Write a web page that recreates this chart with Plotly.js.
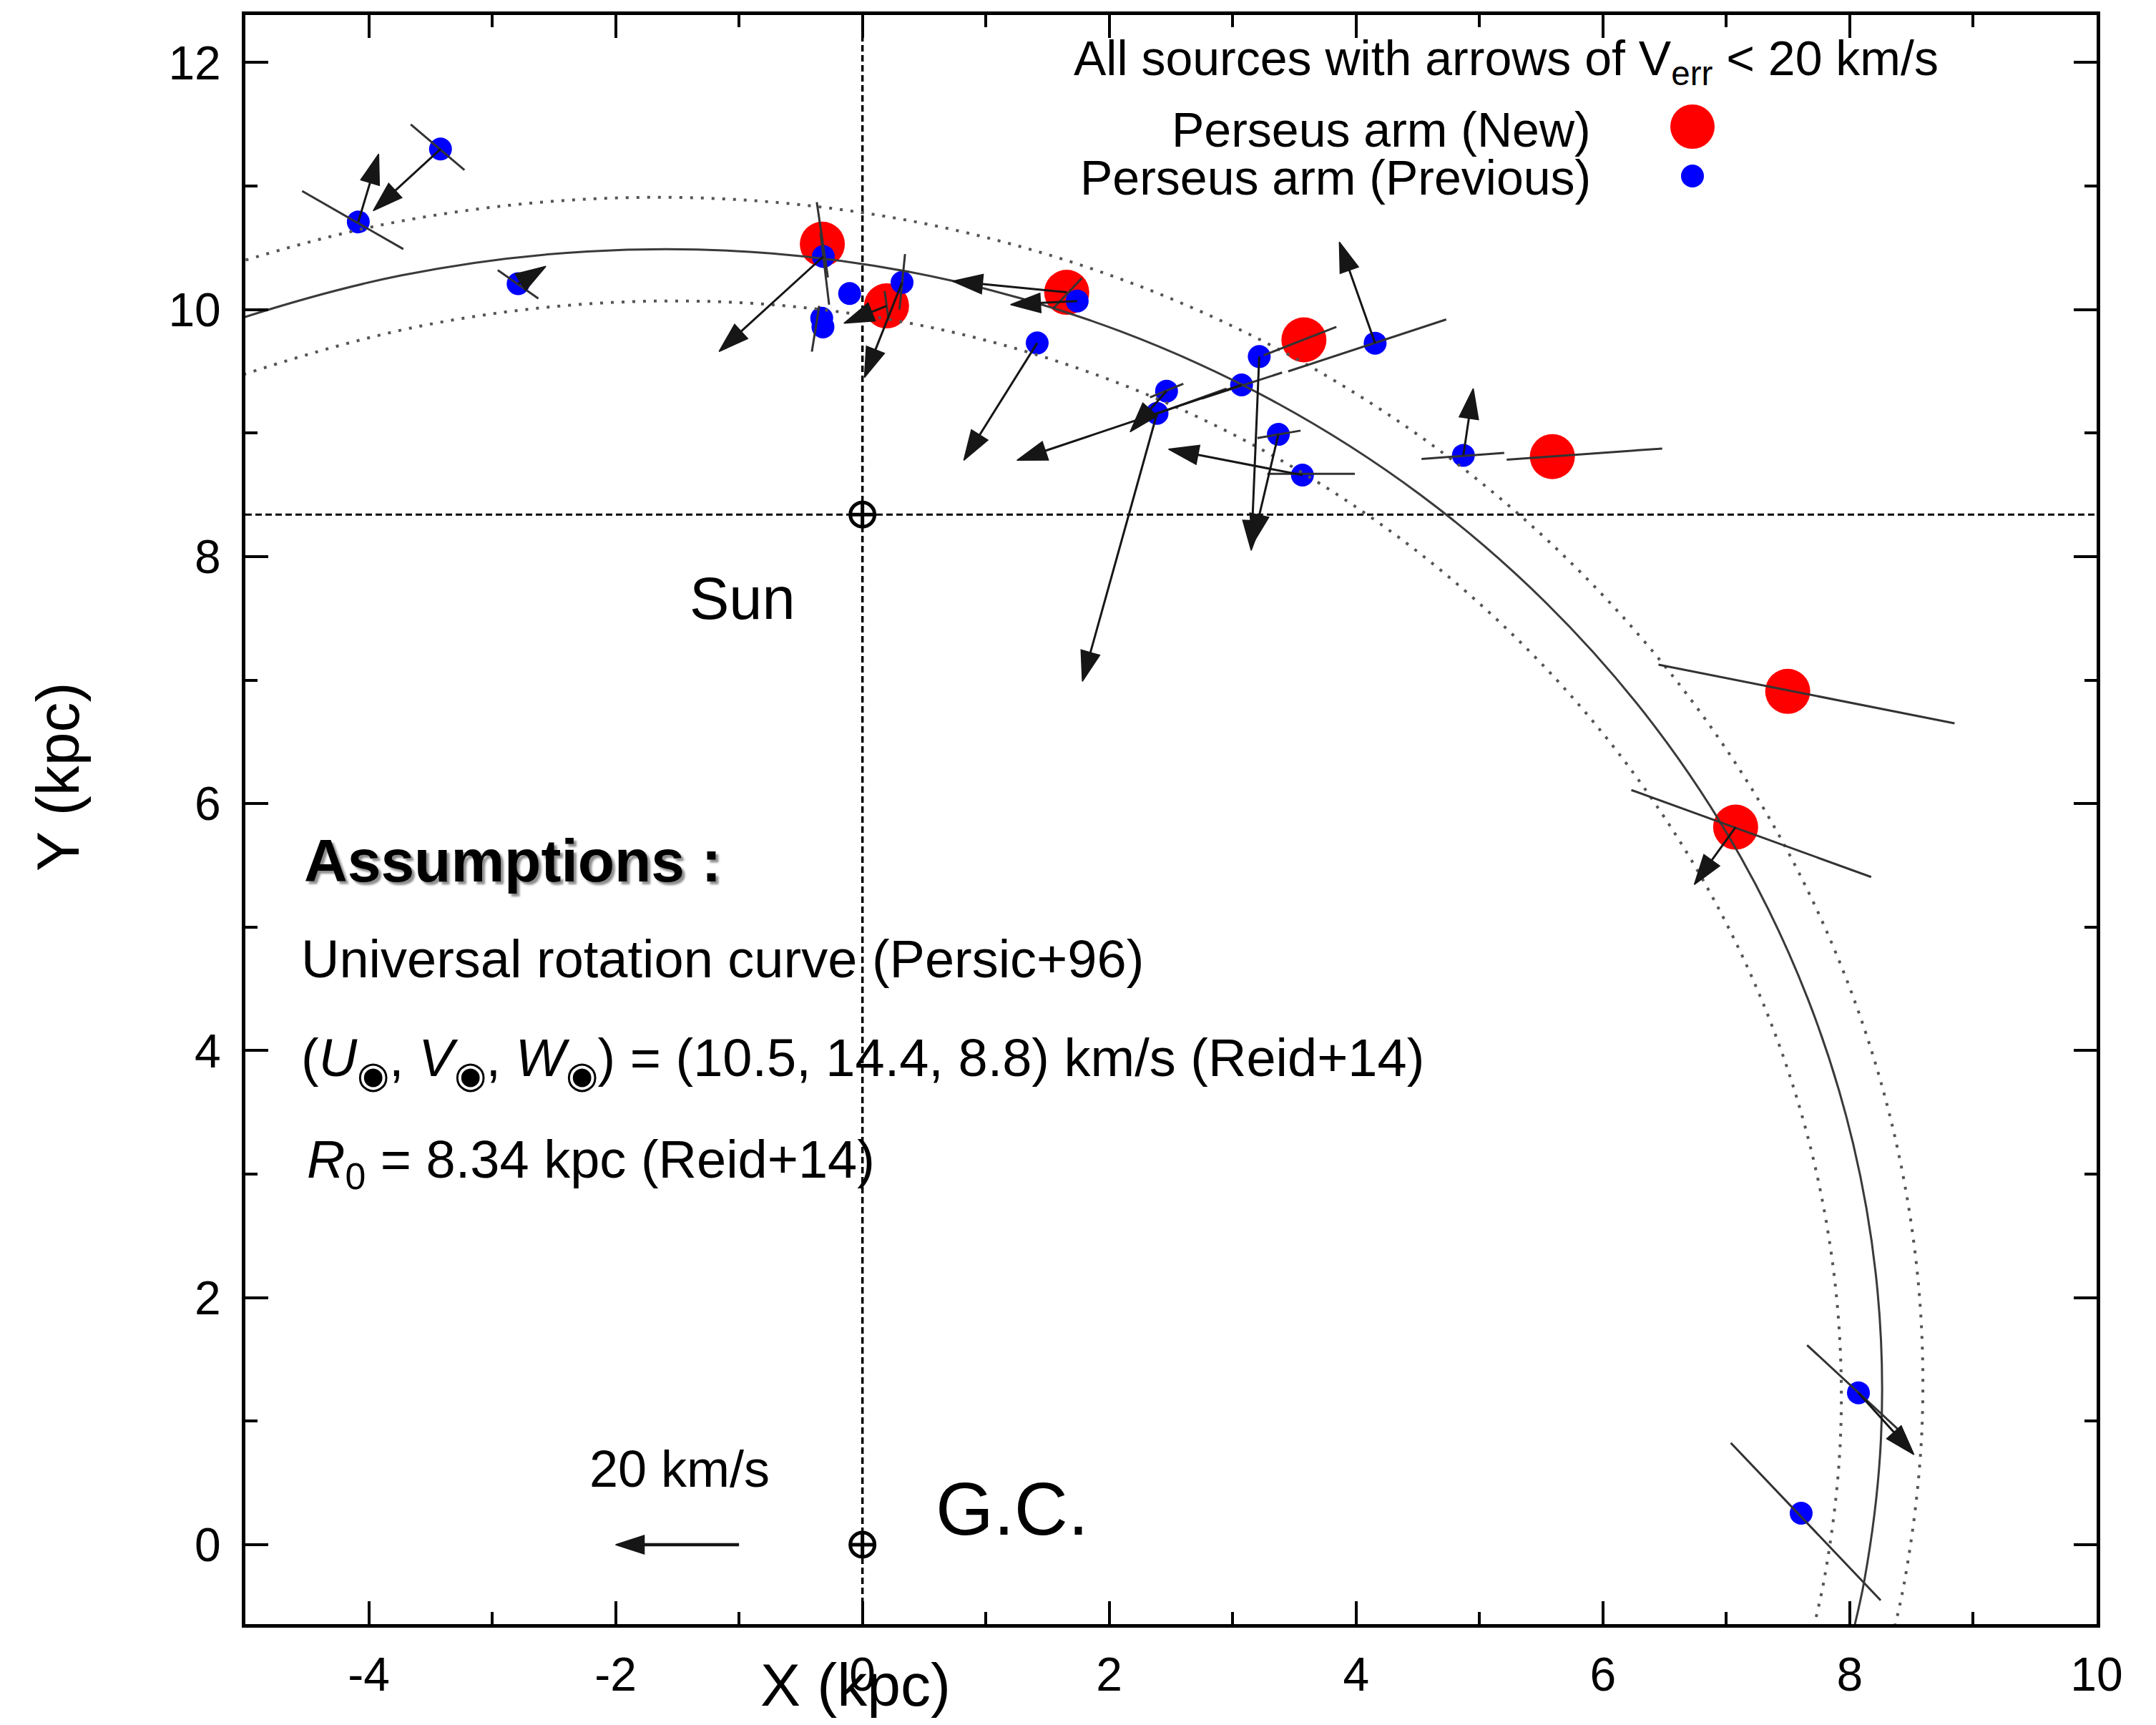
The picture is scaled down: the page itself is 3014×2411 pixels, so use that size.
<!DOCTYPE html>
<html>
<head>
<meta charset="utf-8">
<script src="https://cdn.plot.ly/plotly-3.0.1.min.js"></script>
<style>
html,body{margin:0;padding:0;background:#ffffff;}
#chart{width:3014px;height:2411px;}
</style>
</head>
<body>
<div id="chart"></div>
<script>
// ---------------- DATA ----------------
const R0 = 8.34;                       // Sun galactocentric distance (kpc)
const sunX = [0, 0];                   // Sun, Galactic Centre
const sunY = [R0, 0];

// Perseus arm model (solid) and its width (dotted)
const armX   = [-5.982,-5.244,-3.740,-2.226,-0.731,0.716,2.088,3.363,4.520,5.540,6.410,7.119,7.659,8.028,8.225,8.253,8.119,7.918];
const armY   = [9.573,9.862,10.276,10.471,10.455,10.236,9.825,9.241,8.501,7.625,6.638,5.562,4.422,3.243,2.051,0.867,-0.284,-1.113];
const innerX = [-5.743,-5.034,-3.590,-2.137,-0.702,0.687,2.004,3.228,4.339,5.318,6.154,6.834,7.353,7.707,7.896,7.923,7.794,7.601];
const innerY = [9.190,9.468,9.865,10.052,10.037,9.827,9.432,8.871,8.161,7.320,6.372,5.340,4.245,3.113,1.969,0.832,-0.273,-1.068];
const outerX = [-6.221,-5.454,-3.890,-2.315,-0.760,0.745,2.172,3.498,4.701,5.762,6.666,7.404,7.965,8.349,8.554,8.583,8.444,8.235];
const outerY = [9.956,10.256,10.687,10.890,10.873,10.645,10.218,9.611,8.841,7.930,6.904,5.784,4.599,3.373,2.133,0.902,-0.295,-1.158];

// Perseus arm (New) sources
const newX     = [-0.325, 0.195, 1.655, 3.577, 5.59, 7.497, 7.075];
const newY     = [10.53, 10.03, 10.14, 9.755, 8.81, 6.909, 5.81];
const newErrX0 = [-0.37, 0.18, 1.546, 3.25, 5.22, 6.45, 6.23];
const newErrY0 = [10.87, 10.15, 10.01, 9.63, 8.785, 7.125, 6.11];
const newErrX1 = [-0.28, 0.21, 1.778, 3.84, 6.48, 8.849, 8.173];
const newErrY1 = [10.26, 9.93, 10.255, 9.86, 8.875, 6.65, 5.406];
const newVx    = [null, -6.9, -18.5, null, null, null, -6.7];   // km/s
const newVy    = [null, -2.8, 1.8, null, null, null, -9.3];     // km/s

// Perseus arm (Previous) sources
const prevX     = [-4.085,-3.419,-2.79,-0.317,-0.33,-0.32,-0.104,0.321,1.74,1.416,2.464,2.387,3.072,3.215,3.37,3.565,4.154,4.869,8.07,7.606];
const prevY     = [10.71,11.30,10.21,10.43,9.93,9.86,10.13,10.22,10.07,9.73,9.34,9.16,9.39,9.62,8.99,8.66,9.728,8.82,1.23,0.255];
const prevErrX0 = [-4.54,-3.66,-2.955,-0.34,-0.35,null,null,0.345,null,null,2.33,2.2,2.75,null,3.2,3.28,3.45,4.53,7.654,7.036];
const prevErrY0 = [10.96,11.50,10.32,10.62,10.03,null,null,10.45,null,null,9.29,9.09,9.28,null,8.96,8.67,9.50,8.79,1.616,0.824];
const prevErrX1 = [-3.72,-3.225,-2.626,-0.27,-0.41,null,null,0.30,null,null,2.6,2.95,3.4,null,3.55,3.99,4.73,5.2,8.45,8.25];
const prevErrY1 = [10.49,11.13,10.09,10.04,9.66,null,null,10.0,null,null,9.40,9.36,9.49,null,9.02,8.67,9.92,8.84,0.88,-0.45];
const prevVx    = [3.3,-10.9,4.5,-16.9,null,null,null,-6.1,-10.8,-11.9,-5.9,-12.1,-36.4,-1.3,-4.2,-21.7,-5.8,1.6,9.0,null];
const prevVy    = [11.0,-10.0,2.8,-15.4,null,null,null,-15.4,-0.6,-19.0,-6.6,-43.4,-12.2,-31.4,-17.8,4.2,16.4,10.8,-10.0,null];

// Scale arrow: 20 km/s
const keyV = [-20];        // km/s (pointing to -X)
const keyX = [-1], keyY = [0];
const keyKpc = 1;          // drawn length (kpc) of 20 km/s

// Axis ticks
const xTickVals = [-4,-2,0,2,4,6,8,10];
const xTickText = ['-4','-2','0','2','4','6','8','10'];
const xMinorVals = [-5,-3,-1,1,3,5,7,9];
const yTickVals = [0,2,4,6,8,10,12];
const yTickText = ['0','2','4','6','8','10','12'];
const yMinorVals = [1,3,5,7,9,11];

// ---------------- LAYOUT HELPERS ----------------
const W = 3014, H = 2411;
const ML = 343, MR = 83, MT = 21, MB = 141;
const PW = W - ML - MR, PH = H - MT - MB;
const px = X => (X - ML) / PW;
const py = Y => (H - MB - Y) / PH;
const FONT = 'Liberation Sans, Arial, Helvetica, sans-serif';
const VSCALE = keyKpc / 20;   // kpc per km/s

function segs(x0, y0, x1, y1) {
  const X = [], Y = [];
  for (let i = 0; i < x0.length; i++) {
    if (x0[i] === null) continue;
    X.push(x0[i], x1[i], null);
    Y.push(y0[i], y1[i], null);
  }
  return {X, Y};
}
function vecs(xs, ys, vxs, vys) {
  const X = [], Y = [], S = [];
  for (let i = 0; i < xs.length; i++) {
    if (vxs[i] === null) continue;
    X.push(xs[i], xs[i] + vxs[i] * VSCALE, null);
    Y.push(ys[i], ys[i] + (vys ? vys[i] : 0) * VSCALE, null);
    S.push(0, 1, 0);
  }
  return {X, Y, S};
}
const eNew = segs(newErrX0, newErrY0, newErrX1, newErrY1);
const ePrev = segs(prevErrX0, prevErrY0, prevErrX1, prevErrY1);
const vNew = vecs(newX, newY, newVx, newVy);
const vPrev = vecs(prevX, prevY, prevVx, prevVy);
const vKey = vecs(keyX, keyY, keyV, null);

const LINECOL = '#333333';
const ARROWCOL = '#161616';

function arrowTrace(v, name, width, size) {
  return {x: v.X, y: v.Y, mode: 'lines+markers', type: 'scatter', name: name,
    line: {color: ARROWCOL, width: width},
    marker: {symbol: 'arrow', angleref: 'previous', size: v.S.map(s => s * size),
             color: ARROWCOL, opacity: 1, line: {width: 1.5, color: ARROWCOL}},
    showlegend: false, hoverinfo: 'skip', connectgaps: false};
}

const traces = [
  {x: newX, y: newY, mode: 'markers', type: 'scatter', name: 'Perseus arm (New)',
   marker: {color: '#ff0000', size: 63, line: {width: 0}}, showlegend: false, hoverinfo: 'x+y'},
  {x: prevX, y: prevY, mode: 'markers', type: 'scatter', name: 'Perseus arm (Previous)',
   marker: {color: '#0000ff', size: 32, line: {width: 0}}, showlegend: false, hoverinfo: 'x+y'},
  {x: armX, y: armY, mode: 'lines', type: 'scatter', name: 'Perseus arm',
   line: {color: '#3a3a3a', width: 3, shape: 'spline', smoothing: 1}, showlegend: false, hoverinfo: 'skip'},
  {x: innerX, y: innerY, mode: 'lines', type: 'scatter', name: 'arm inner edge',
   line: {color: '#555555', width: 4, shape: 'spline', smoothing: 1, dash: '4px,11px'}, showlegend: false, hoverinfo: 'skip'},
  {x: outerX, y: outerY, mode: 'lines', type: 'scatter', name: 'arm outer edge',
   line: {color: '#555555', width: 4, shape: 'spline', smoothing: 1, dash: '4px,11px'}, showlegend: false, hoverinfo: 'skip'},
  {x: eNew.X, y: eNew.Y, mode: 'lines', type: 'scatter', name: 'err new',
   line: {color: LINECOL, width: 3}, showlegend: false, hoverinfo: 'skip', connectgaps: false},
  {x: ePrev.X, y: ePrev.Y, mode: 'lines', type: 'scatter', name: 'err prev',
   line: {color: LINECOL, width: 3}, showlegend: false, hoverinfo: 'skip', connectgaps: false},
  arrowTrace(vNew, 'motion new', 3, 44),
  arrowTrace(vPrev, 'motion prev', 3, 44),
  arrowTrace(vKey, '20 km/s', 4.5, 42),
  {x: sunX, y: sunY, mode: 'markers', type: 'scatter', name: 'Sun / G.C.',
   marker: {symbol: 'circle-cross-open', size: 34, color: '#000', line: {width: 5, color: '#000'}},
   showlegend: false, hoverinfo: 'skip'}
];

function txt(text, X, Y, size, opts) {
  return Object.assign({
    text: text, x: px(X), y: py(Y), xref: 'paper', yref: 'paper',
    showarrow: false, xanchor: 'center', yanchor: 'middle',
    font: {family: FONT, size: size, color: '#000'}
  }, opts || {});
}

const annotations = [
  txt('All sources with arrows of V<sub>err</sub> &lt; 20 km/s', 2105, 86, 68),
  txt('Perseus arm (New)', 2226, 181, 68, {xanchor: 'right'}),
  txt('Perseus arm (Previous)', 2226, 248, 68, {xanchor: 'right'}),
  txt('Sun', 1038, 836, 83),
  txt('G.C.', 1415, 2109, 104),
  txt('20 km/s', 950, 2053, 72),
  txt('<b>Assumptions :</b>', 423, 1203, 84, {xanchor: 'left',
      font: {family: FONT, size: 84, color: '#000', shadow: '4px 4px 3px rgba(0,0,0,0.45)'}}),
  txt('Universal rotation curve (Persic+96)', 419, 1340, 74, {xanchor: 'left'}),
  txt('(<i>U</i><sub>◉</sub>, <i>V</i><sub>◉</sub>, <i>W</i><sub>◉</sub>) = (10.5, 14.4, 8.8) km/s (Reid+14)', 419, 1484, 74, {xanchor: 'left'}),
  txt('<i>R</i><sub>0</sub> = 8.34 kpc (Reid+14)', 427, 1626, 74, {xanchor: 'left'}),
  txt('X (kpc)', 1196, 2355, 84),
  txt('Y (kpc)', 81, 1086, 84, {textangle: -90})
];

const shapes = [
  {type: 'line', xref: 'paper', x0: 0, x1: 1, yref: 'y', y0: R0, y1: R0, layer: 'below',
   line: {color: '#000', width: 3, dash: '9px,5px'}},
  {type: 'line', xref: 'x', x0: 0, x1: 0, yref: 'paper', y0: 0, y1: 1, layer: 'below',
   line: {color: '#000', width: 3.5, dash: '9px,5px'}},
  // legend symbols
  {type: 'circle', xref: 'paper', yref: 'paper', xsizemode: 'pixel', ysizemode: 'pixel',
   xanchor: px(2366), yanchor: py(177), x0: -31, x1: 31, y0: -31, y1: 31,
   fillcolor: '#ff0000', line: {width: 0}},
  {type: 'circle', xref: 'paper', yref: 'paper', xsizemode: 'pixel', ysizemode: 'pixel',
   xanchor: px(2366), yanchor: py(246), x0: -16, x1: 16, y0: -16, y1: 16,
   fillcolor: '#0000ff', line: {width: 0}}
];

const axisCommon = {
  showgrid: false, zeroline: false, showline: true, linecolor: '#000', linewidth: 5,
  mirror: 'ticks', ticks: 'inside', ticklen: 32, tickwidth: 4, tickcolor: '#000',
  tickmode: 'array', automargin: false, fixedrange: true,
  tickfont: {family: FONT, size: 66, color: '#000'}
};

const layout = {
  width: W, height: H,
  margin: {l: ML, r: MR, t: MT, b: MB, pad: 0},
  paper_bgcolor: '#fff', plot_bgcolor: '#fff',
  showlegend: false,
  xaxis: Object.assign({}, axisCommon, {
    range: [-5, 10], tickvals: xTickVals, ticktext: xTickText, ticklabelstandoff: 9,
    minor: {tickmode: 'array', tickvals: xMinorVals, ticks: 'inside', ticklen: 17, tickwidth: 4, tickcolor: '#000', showgrid: false}
  }),
  yaxis: Object.assign({}, axisCommon, {
    range: [-0.643, 12.385], tickvals: yTickVals, ticktext: yTickText, ticklabelstandoff: 16,
    minor: {tickmode: 'array', tickvals: yMinorVals, ticks: 'inside', ticklen: 17, tickwidth: 4, tickcolor: '#000', showgrid: false}
  }),
  annotations: annotations,
  shapes: shapes
};

Plotly.newPlot('chart', traces, layout, {staticPlot: true, displayModeBar: false});
</script>
</body>
</html>
